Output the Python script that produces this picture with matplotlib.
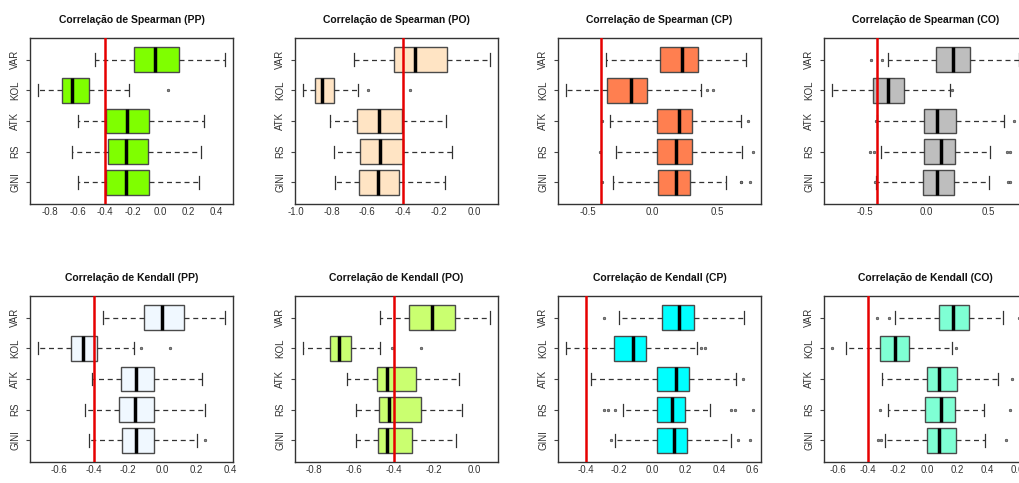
import matplotlib
matplotlib.use("Agg")
import matplotlib.pyplot as plt
from matplotlib.ticker import FormatStrFormatter

plt.rcParams['font.family'] = ['Liberation Sans', 'DejaVu Sans']
plt.rcParams['axes.unicode_minus'] = False

labels = ["GINI", "RS", "ATK", "KOL", "VAR"]

# each row: whisker low, Q1, median, Q3, whisker high (order GINI..VAR)
sp_pp = [[-0.594, -0.396, -0.248, -0.081, 0.274],
         [-0.642, -0.382, -0.248, -0.093, 0.291],
         [-0.599, -0.391, -0.239, -0.081, 0.313],
         [-0.888, -0.714, -0.642, -0.520, -0.231],
         [-0.470, -0.193, -0.041, 0.134, 0.468]]
sp_pp_out = [[], [], [], [0.053], []]

sp_po = [[-0.782, -0.648, -0.540, -0.422, -0.162],
         [-0.786, -0.642, -0.529, -0.397, -0.123],
         [-0.806, -0.659, -0.534, -0.406, -0.156],
         [-0.963, -0.892, -0.851, -0.788, -0.652],
         [-0.672, -0.447, -0.330, -0.153, 0.092]]
sp_po_out = [[], [], [], [-0.598, -0.359], []]

sp_cp = [[-0.303, 0.041, 0.182, 0.290, 0.567],
         [-0.282, 0.036, 0.179, 0.303, 0.690],
         [-0.326, 0.036, 0.205, 0.303, 0.682],
         [-0.672, -0.351, -0.167, -0.041, 0.379],
         [-0.356, 0.059, 0.226, 0.351, 0.721]]
sp_cp_out = [[-0.39, 0.682, 0.685, 0.756], [-0.403, 0.782], [-0.39, 0.738],
             [0.423, 0.469], []]

sp_co = [[-0.405, -0.027, 0.085, 0.220, 0.500],
         [-0.367, -0.019, 0.117, 0.231, 0.508],
         [-0.402, -0.019, 0.080, 0.239, 0.619],
         [-0.766, -0.434, -0.311, -0.179, 0.191],
         [-0.314, 0.072, 0.215, 0.351, 0.747]]
sp_co_out = [[-0.415, 0.651, 0.670], [-0.455, -0.426, 0.643, 0.670],
             [-0.41, 0.705], [0.2], [-0.447, -0.362]]

kd_pp = [[-0.430, -0.237, -0.154, -0.050, 0.206],
         [-0.449, -0.252, -0.160, -0.050, 0.250],
         [-0.410, -0.243, -0.154, -0.050, 0.235],
         [-0.728, -0.532, -0.462, -0.382, -0.166],
         [-0.347, -0.108, 0.000, 0.125, 0.370]]
kd_pp_out = [[0.249], [], [], [-0.121, 0.048], []]

kd_po = [[-0.592, -0.480, -0.438, -0.310, -0.092],
         [-0.592, -0.477, -0.427, -0.268, -0.060],
         [-0.635, -0.485, -0.435, -0.292, -0.077],
         [-0.858, -0.722, -0.675, -0.617, -0.472],
         [-0.472, -0.327, -0.213, -0.097, 0.080]]
kd_po_out = [[], [], [], [-0.413, -0.268], []]

kd_cp = [[-0.223, 0.030, 0.133, 0.209, 0.474],
         [-0.179, 0.030, 0.120, 0.199, 0.345],
         [-0.366, 0.030, 0.145, 0.219, 0.502],
         [-0.522, -0.233, -0.116, -0.036, 0.269],
         [-0.203, 0.060, 0.159, 0.253, 0.548]]
kd_cp_out = [[-0.247, 0.514, 0.588], [-0.289, -0.267, -0.223, 0.474, 0.494, 0.608],
             [0.544], [0.295, 0.319], [-0.289]]

kd_co = [[-0.284, -0.007, 0.078, 0.193, 0.387],
         [-0.267, -0.016, 0.089, 0.184, 0.380],
         [-0.307, -0.007, 0.073, 0.196, 0.473],
         [-0.549, -0.318, -0.218, -0.127, 0.162],
         [-0.216, 0.073, 0.173, 0.278, 0.504]]
kd_co_out = [[-0.333, -0.311, 0.527], [-0.320, 0.551], [0.567],
             [-0.644, 0.191], [-0.340, -0.256, 0.615]]

titles = ["Correlação de Spearman (PP)", "Correlação de Spearman (PO)",
          "Correlação de Spearman (CP)", "Correlação de Spearman (CO)",
          "Correlação de Kendall (PP)", "Correlação de Kendall (PO)",
          "Correlação de Kendall (CP)", "Correlação de Kendall (CO)"]
panels = [sp_pp, sp_po, sp_cp, sp_co, kd_pp, kd_po, kd_cp, kd_co]
outliers = [sp_pp_out, sp_po_out, sp_cp_out, sp_co_out,
            kd_pp_out, kd_po_out, kd_cp_out, kd_co_out]
colors = ["#7FFF00", "#FFE4C4", "#FF7F50", "#BEBEBE",
          "#F0F8FF", "#CAFF70", "#00FFFF", "#7FFFD4"]
xticks = [[-0.8, -0.6, -0.4, -0.2, 0.0, 0.2, 0.4],
          [-1.0, -0.8, -0.6, -0.4, -0.2, 0.0],
          [-0.5, 0.0, 0.5],
          [-0.5, 0.0, 0.5],
          [-0.6, -0.4, -0.2, 0.0, 0.2, 0.4],
          [-0.8, -0.6, -0.4, -0.2, 0.0],
          [-0.4, -0.2, 0.0, 0.2, 0.4, 0.6],
          [-0.6, -0.4, -0.2, 0.0, 0.2, 0.4, 0.6]]
threshold = -0.4

W, H = 1019, 483
fig = plt.figure(figsize=(W / 100, H / 100), dpi=100)
lefts = [30, 295, 558, 824]
tops = [38, 296]
aw, ah = 203, 166

for i in range(8):
    r, c = divmod(i, 4)
    ax = fig.add_axes([lefts[c] / W, 1 - (tops[r] + ah) / H, aw / W, ah / H])
    stats = []
    for k, row in enumerate(panels[i]):
        stats.append(dict(whislo=row[0], q1=row[1], med=row[2], q3=row[3],
                          whishi=row[4], fliers=outliers[i][k]))
    ax.bxp(stats, vert=False, widths=0.8, patch_artist=True,
           boxprops=dict(facecolor=colors[i], edgecolor="#4a4a4a", linewidth=1.0),
           medianprops=dict(color="black", linewidth=2.5, solid_capstyle="butt"),
           whiskerprops=dict(color="#333333", linewidth=0.9, linestyle=(0, (4, 3))),
           capprops=dict(color="#333333", linewidth=0.9),
           flierprops=dict(marker="o", markersize=1.8, markerfacecolor="#888888",
                           markeredgecolor="#444444", markeredgewidth=0.5))
    ax.axvline(threshold, color="#E60000", linewidth=1.8, zorder=5)
    ax.margins(x=0.04)
    ax.set_ylim(0.3, 5.7)
    ax.set_yticks(range(1, 6))
    ax.set_yticklabels(labels, rotation=90, va="center")
    ax.set_xticks(xticks[i])
    ax.xaxis.set_major_formatter(FormatStrFormatter("%.1f"))
    ax.tick_params(axis="y", length=3, width=0.8, color="#444444", pad=4,
                   labelsize=7, labelcolor="#333333")
    ax.tick_params(axis="x", length=0, pad=2.5, labelsize=7, labelcolor="#333333")
    for s in ax.spines.values():
        s.set_color("#333333")
        s.set_linewidth(1.0)
    ax.set_title(titles[i], fontsize=7.5, fontweight="bold", pad=10.5, color="#111111")

fig.savefig("out.png", dpi=100)
